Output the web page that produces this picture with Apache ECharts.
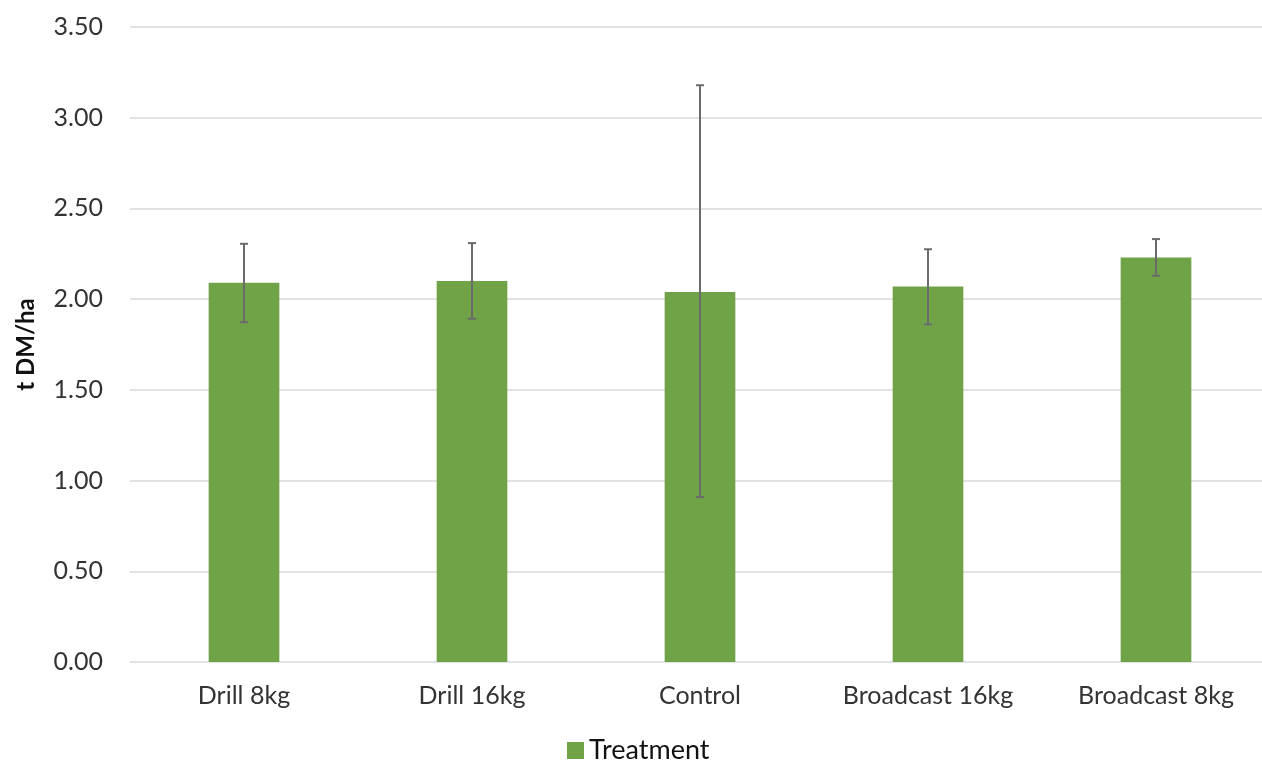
<!DOCTYPE html>
<html><head><meta charset="utf-8">
<script src="https://cdn.jsdelivr.net/npm/echarts@6/dist/echarts.min.js"></script>
<style>html,body{margin:0;padding:0;background:#fff;overflow:hidden}#c{width:1270px;height:761px}</style>
</head><body><div id="c"></div>
<script>
const categories = ['Drill 8kg', 'Drill 16kg', 'Control', 'Broadcast 16kg', 'Broadcast 8kg'];
const values = [2.09, 2.10, 2.04, 2.07, 2.23];
const errLow = [1.873, 1.892, 0.909, 1.861, 2.129];
const errHigh = [2.305, 2.309, 3.179, 2.275, 2.331];
const seriesName = 'Treatment';
const yTitle = 't DM/ha';

const FONT = 'Lato';
const chart = echarts.init(document.getElementById('c'));
const errData = categories.map((c, i) => [i, errLow[i], errHigh[i]]);
chart.setOption({
  animation: false,
  grid: { left: 130, right: 0, top: 27, bottom: 99 },
  legend: {
    data: [{ name: seriesName, icon: 'rect' }],
    top: 732, left: 562,
    itemWidth: 17, itemHeight: 17, itemGap: 7,
    textStyle: { fontFamily: FONT, fontSize: 27, color: '#111' }
  },
  xAxis: {
    type: 'category', data: categories,
    axisLine: { show: false }, axisTick: { show: false },
    axisLabel: { fontFamily: FONT, fontSize: 25, color: '#333', margin: 21 }
  },
  yAxis: {
    type: 'value', min: 0, max: 3.5, interval: 0.5,
    name: yTitle, nameLocation: 'middle', nameGap: 92, nameRotate: 90,
    nameTextStyle: { fontFamily: FONT, fontSize: 24, fontWeight: 'bold', color: '#111' },
    axisLabel: { fontFamily: FONT, fontSize: 25, color: '#333', margin: 27,
      formatter: v => v.toFixed(2) },
    splitLine: { lineStyle: { color: '#d9d9d9', width: 1.5 } },
    axisLine: { show: false }, axisTick: { show: false }
  },
  series: [
    { name: seriesName, type: 'bar', data: values, barWidth: '31%',
      itemStyle: { color: '#70a348' } },
    { type: 'custom', name: 'err', data: errData, z: 10, silent: true,
      renderItem: (params, api) => {
        const x = api.value(0);
        const lo = api.coord([x, api.value(1)]);
        const hi = api.coord([x, api.value(2)]);
        const hw = 4;
        const st = { stroke: '#6b6b6b', lineWidth: 2 };
        return { type: 'group', children: [
          { type: 'line', shape: { x1: lo[0], y1: lo[1], x2: hi[0], y2: hi[1] }, style: st },
          { type: 'line', shape: { x1: lo[0]-hw, y1: lo[1], x2: lo[0]+hw, y2: lo[1] }, style: st },
          { type: 'line', shape: { x1: hi[0]-hw, y1: hi[1], x2: hi[0]+hw, y2: hi[1] }, style: st }
        ]};
      }
    }
  ]
});
</script></body></html>
